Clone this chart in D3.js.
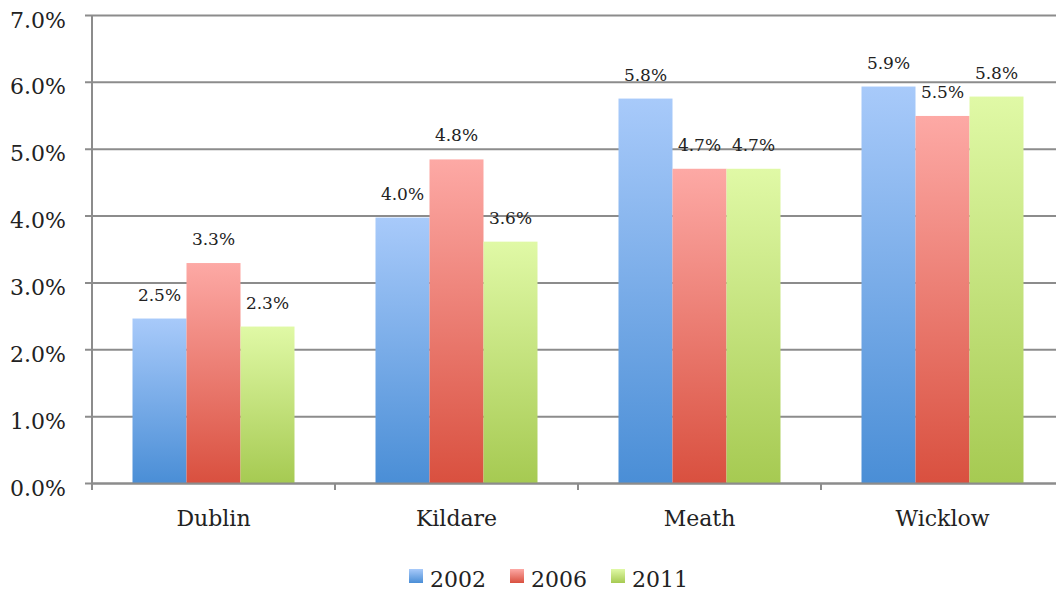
<!DOCTYPE html>
<html>
<head>
<meta charset="utf-8">
<script src="https://cdn.jsdelivr.net/npm/d3@7"></script>
<style>
    body { margin: 0; background: #fff; }
    text { font-family: "DejaVu Serif", serif; fill: #222; }
</style>
</head>
<body>
<div id="chart"></div>
<script>
// data
var counties = ['Dublin', 'Kildare', 'Meath', 'Wicklow'];
var years = ['2002', '2006', '2011'];
var values2002 = [2.46, 3.97, 5.75, 5.93];
var values2006 = [3.29, 4.84, 4.70, 5.49];
var values2011 = [2.34, 3.61, 4.70, 5.78];
var yTicks = [0, 1, 2, 3, 4, 5, 6, 7];

var series = [values2002, values2006, values2011];
var colors = [
    {top: '#a8cafa', bottom: '#4a8ed6'},
    {top: '#fda9a5', bottom: '#d9503f'},
    {top: '#e0f9a6', bottom: '#a6ca52'}
];

var svgWidth = 1056;
var svgHeight = 595;

var margin = {
    top: 15,
    left: 92
};

var bandWidth = 243;
var plotHeight = 468;

var svg = d3.select('#chart')
    .append('svg')
    .attr('width', svgWidth)
    .attr('height', svgHeight);

var defs = svg.append('defs');
colors.forEach(function(c, i) {
    var grad = defs.append('linearGradient')
        .attr('id', 'grad' + i)
        .attr('x1', 0).attr('y1', 0)
        .attr('x2', 0).attr('y2', 1);
    grad.append('stop').attr('offset', '0%').attr('stop-color', c.top);
    grad.append('stop').attr('offset', '100%').attr('stop-color', c.bottom);
});

var chartGroup = svg.append('g')
    .attr('transform', `translate(${margin.left}, ${margin.top})`);

var xScale = d3.scaleBand()
    .domain(counties)
    .range([0, bandWidth * counties.length]);

var innerScale = d3.scaleBand()
    .domain(years)
    .range([0, xScale.bandwidth()])
    .paddingOuter(0.75);

var yScale = d3.scaleLinear()
    .domain([0, 7])
    .range([plotHeight, 0]);

// gridlines + y axis labels
var leftAxis = d3.axisLeft(yScale)
    .tickValues(yTicks)
    .tickSize(-(svgWidth - margin.left))
    .tickFormat(d => d3.format('.1f')(d) + '%');

var yAxis = chartGroup.append('g')
    .call(leftAxis);
yAxis.select('.domain').remove();
yAxis.selectAll('.tick line')
    .attr('x1', -7)
    .attr('stroke', '#8c8c8c')
    .attr('stroke-width', 2);
yAxis.selectAll('.tick text')
    .attr('x', -26)
    .attr('dy', '0.55em')
    .style('font-size', '22px')
    .style('font-family', '"DejaVu Serif", serif')
    .attr('fill', '#222');

// y axis line
chartGroup.append('line')
    .attr('x1', 0).attr('x2', 0)
    .attr('y1', 0).attr('y2', plotHeight + 7)
    .attr('stroke', '#8c8c8c')
    .attr('stroke-width', 2);

// bars
var groups = chartGroup.selectAll('.county')
    .data(counties)
    .enter()
    .append('g')
    .attr('transform', d => `translate(${xScale(d)}, 0)`);

years.forEach(function(year, s) {
    groups.append('rect')
        .attr('x', innerScale(year))
        .attr('y', (d, i) => yScale(series[s][i]))
        .attr('width', innerScale.bandwidth())
        .attr('height', (d, i) => plotHeight - yScale(series[s][i]))
        .attr('fill', 'url(#grad' + s + ')');
    groups.append('text')
        .attr('x', innerScale(year) + innerScale.bandwidth() / 2)
        .attr('y', (d, i) => yScale(series[s][i]) - 18)
        .attr('text-anchor', 'middle')
        .attr('font-size', '17px')
        .text((d, i) => series[s][i].toFixed(1) + '%');
});

// x axis
var bottomAxis = d3.axisBottom(xScale).tickSize(0).tickSizeOuter(0);
var xAxis = chartGroup.append('g')
    .attr('transform', `translate(0, ${plotHeight})`)
    .call(bottomAxis);
xAxis.select('.domain')
    .attr('stroke', '#8c8c8c')
    .attr('stroke-width', 2);
xAxis.selectAll('.tick text')
    .attr('y', 27)
    .style('font-size', '22px')
    .style('font-family', '"DejaVu Serif", serif')
    .attr('fill', '#222');

// category separators
chartGroup.selectAll('.sep')
    .data(counties.slice(1))
    .enter()
    .append('line')
    .attr('x1', d => xScale(d)).attr('x2', d => xScale(d))
    .attr('y1', plotHeight).attr('y2', plotHeight + 7)
    .attr('stroke', '#8c8c8c')
    .attr('stroke-width', 2);

// legend
var legend = svg.append('g')
    .attr('transform', 'translate(409, 569)');
years.forEach(function(year, s) {
    var item = legend.append('g')
        .attr('transform', `translate(${s * 101}, 0)`);
    item.append('rect')
        .attr('width', 14)
        .attr('height', 14)
        .attr('fill', 'url(#grad' + s + ')');
    item.append('text')
        .attr('x', 21)
        .attr('y', 18)
        .attr('font-size', '22px')
        .text(year);
});
</script>
</body>
</html>
